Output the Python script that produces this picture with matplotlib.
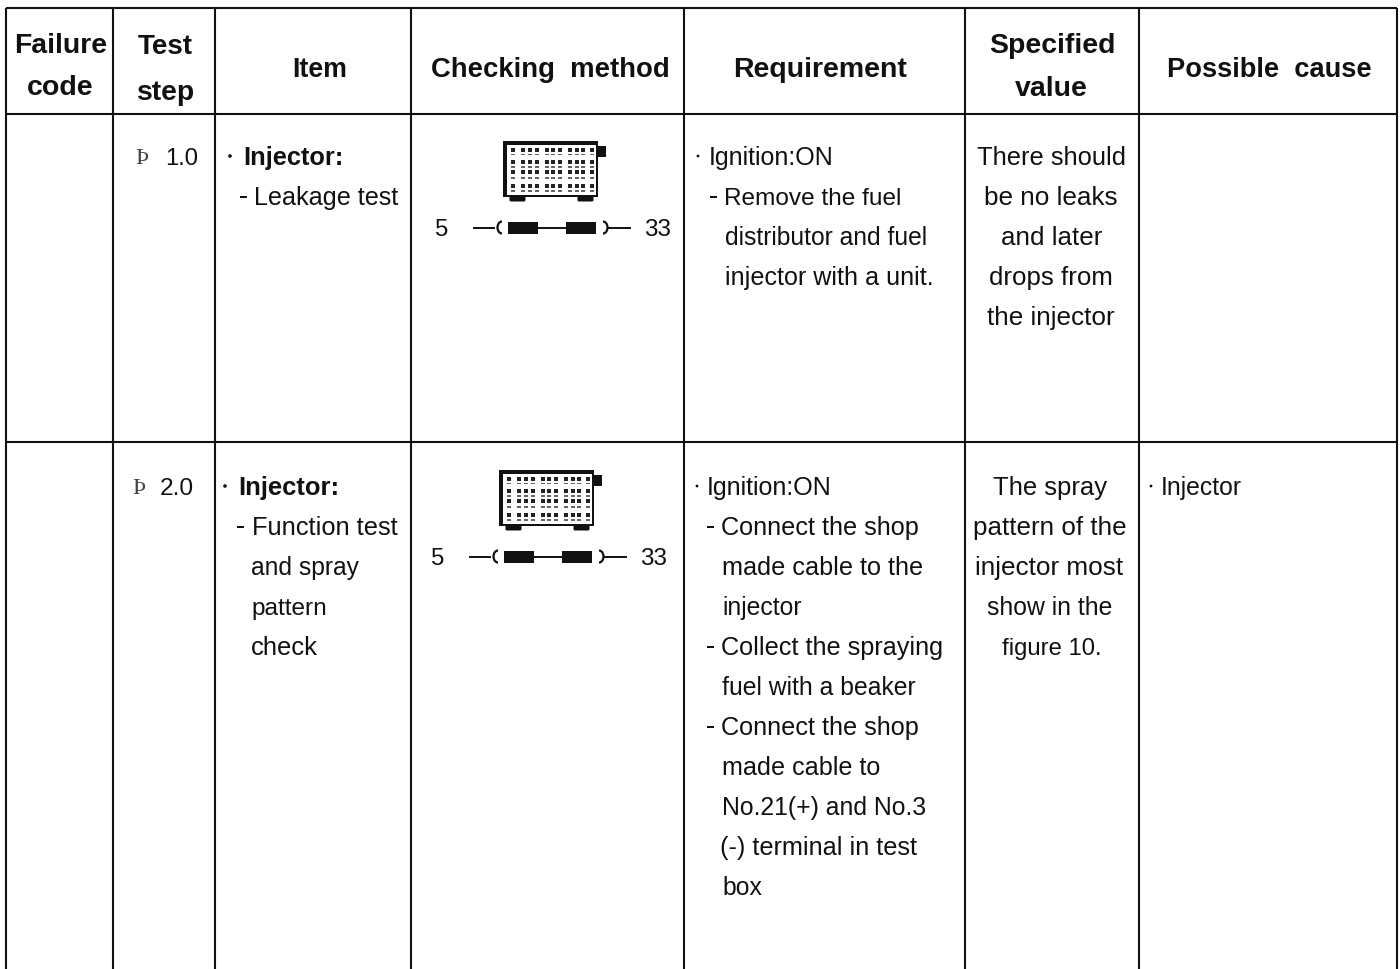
#!/usr/bin/env python3
"""Diagnosis table for the injector test steps, drawn in pixel coordinates."""
import matplotlib
matplotlib.use('Agg')
import matplotlib.pyplot as plt
from matplotlib.font_manager import FontProperties
from matplotlib.patches import Rectangle, FancyBboxPatch, Arc, Circle
from matplotlib.textpath import text_to_path

# Table content
headers = [['Failure', 'code'], ['Test', 'step'], ['Item'], ['Checking  method'],
           ['Requirement'], ['Specified', 'value'], ['Possible  cause']]
steps = ['1.0', '2.0']
item_title = 'Injector:'
item_lines = [['Leakage test'],
              ['Function test', 'and spray', 'pattern', 'check']]
requirements = [['Ignition:ON', 'Remove the fuel', 'distributor and fuel',
                 'injector with a unit.'],
                ['Ignition:ON', 'Connect the shop', 'made cable to the', 'injector',
                 'Collect the spraying', 'fuel with a beaker', 'Connect the shop',
                 'made cable to', 'No.21(+) and No.3', '(-) terminal in test', 'box']]
specified = [['There should', 'be no leaks', 'and later', 'drops from', 'the injector'],
             ['The spray', 'pattern of the', 'injector most', 'show in the', 'figure 10.']]
cause = 'Injector'
pins = ['5', '33']

# Layout in reference pixels
col_x = [6, 113, 215, 411, 684, 965, 1139, 1397]
top, head_bottom, row_line, bottom = 9, 115, 443, 970
first_base = [165, 495]
line_h = 40
font = 'Liberation Sans'
ink = '#111111'

# (left, right, baseline) of each header line
header_pos = [[(14, 107, 53), (27, 94, 95)], [(138, 193, 54), (137, 195, 100)],
              [(292, 347, 77)], [(431, 669, 77)], [(733, 909, 77)],
              [(989, 1115, 53), (1015, 1090, 96)], [(1167, 1372, 77)]]
# (left, right) of each body line
step_pos = [(165, 197), (160, 194)]
title_pos = [(243, 343), (238, 339)]
item_pos = [[(254, 398)], [(252, 397), (251, 359), (251, 327), (251, 318)]]
req_pos = [[(709, 834), (724, 902), (725, 928), (725, 933)],
           [(707, 832), (721, 919), (722, 923), (722, 802), (721, 943), (722, 916),
            (721, 919), (722, 880), (722, 926), (720, 917), (722, 762)]]
spec_pos = [[(977, 1126), (984, 1119), (1001, 1102), (989, 1113), (987, 1116)],
            [(993, 1107), (973, 1126), (975, 1126), (987, 1112), (1002, 1097)]]
# dash position per line of the item and requirement cells, None where there is no dash
item_dash = [[240], [237, None, None, None]]
req_dash = [[None, 710, None, None],
            [None, 707, None, None, 707, None, 707, None, None, None, None]]

fig = plt.figure(figsize=(14, 9.7), dpi=100)
ax = fig.add_axes([0, 0, 1, 1])
ax.set_xlim(0, 1400)
ax.set_ylim(970, 0)
ax.axis('off')

# Grid
for x in col_x:
    ax.plot([x, x], [top, bottom], color=ink, lw=1.5, solid_capstyle='butt')
for y in [top, head_bottom, row_line]:
    ax.plot([col_x[0], col_x[-1]], [y, y], color=ink, lw=1.5, solid_capstyle='butt')


def put(x0, x1, base, s, weight='normal'):
    """Write one line, picking the font size that makes it span x0..x1."""
    prop = FontProperties(family=font, weight=weight, size=18)
    w = text_to_path.get_text_width_height_descent(s, prop, False)[0] * 100 / 72
    lo, hi = (18.0, 20.5) if weight == 'bold' else (17.2, 18.8)
    size = min(hi, max(lo, 18 * (x1 - x0) / w))
    ax.text(x0, base, s, ha='left', va='baseline', fontsize=size, fontweight=weight,
            family=font, color=ink)


def dot(x, base, r=1.4):
    ax.add_patch(Circle((x, base - 8), r, fc=ink, ec='none'))


def dash(x, base):
    ax.add_patch(Rectangle((x, base - 8), 7, 2, fc=ink, ec='none'))


def draw_device(dx, dy):
    """Test box icon and connector; coordinates are those of the upper row, shifted."""
    ax.add_patch(Rectangle((503 + dx, 142 + dy), 95, 56, fc=ink, ec='none'))
    ax.add_patch(Rectangle((507 + dx, 146 + dy), 88.5, 49.5, fc='white', ec='none'))
    ax.add_patch(Rectangle((598 + dx, 147 + dy), 8, 11, fc=ink, ec='none'))
    for fx in [511, 579]:
        ax.add_patch(FancyBboxPatch((fx + dx, 198 + dy), 13, 3, boxstyle='round,pad=1.5',
                                    fc=ink, ec='none'))
    for ry, tall in [(151, 3.5), (155.5, 1.5), (163, 3.5), (168, 1.5),
                     (173, 3.5), (179, 1.5), (187, 3.5), (192, 1.5)]:
        for cx in [513, 523, 530, 537, 547, 553, 560, 570, 577, 583, 592]:
            ax.add_patch(Rectangle((cx + dx - 1.8, ry + dy - tall / 2), 3.6, tall,
                                   fc='#222222' if tall > 2 else '#666666', ec='none'))
    # connector
    ly = 228.5 + dy
    ax.plot([473 + dx, 495 + dx], [ly, ly], color=ink, lw=1.4, solid_capstyle='butt')
    ax.add_patch(Arc((502 + dx, ly), 9, 12, theta1=90, theta2=270, color=ink, lw=1.6))
    ax.add_patch(Rectangle((508 + dx, ly - 6), 30, 12, fc=ink, ec='none'))
    ax.plot([538 + dx, 566 + dx], [ly, ly], color=ink, lw=1.4, solid_capstyle='butt')
    ax.add_patch(Rectangle((566 + dx, ly - 6), 30, 12, fc=ink, ec='none'))
    ax.add_patch(Arc((603 + dx, ly), 9, 12, theta1=270, theta2=90, color=ink, lw=1.6))
    ax.plot([608 + dx, 631 + dx], [ly, ly], color=ink, lw=1.4, solid_capstyle='butt')
    put(435 + dx, 448 + dx, 236 + dy, pins[0])
    put(644 + dx, 671 + dx, 236 + dy, pins[1])


# Header row
for lines, spots in zip(headers, header_pos):
    for s, (x0, x1, base) in zip(lines, spots):
        put(x0, x1, base, s, weight='bold')

# Body rows
for r, base in enumerate(first_base):
    ax.text([142, 139][r], base - 1, 'Þ', ha='center', va='baseline', fontsize=17,
            family='Liberation Serif', color='#444444')
    put(*step_pos[r], base, steps[r])

    dot([230, 225][r], base, r=1.8)
    put(*title_pos[r], base, item_title, weight='bold')
    for j, s in enumerate(item_lines[r]):
        y = base + line_h * (j + 1)
        if item_dash[r][j]:
            dash(item_dash[r][j], y)
        put(*item_pos[r][j], y, s)

    dot([698, 697][r], base)
    for j, s in enumerate(requirements[r]):
        y = base + line_h * j
        if req_dash[r][j]:
            dash(req_dash[r][j], y)
        put(*req_pos[r][j], y, s)

    for j, s in enumerate(specified[r]):
        put(*spec_pos[r][j], base + line_h * j, s)

dot(1151, first_base[1])
put(1161, 1242, first_base[1], cause)

# Icons and pin numbers
draw_device(0, 0)
draw_device(-4, 329)

fig.savefig('out.png', dpi=100, facecolor='white')
plt.close(fig)
